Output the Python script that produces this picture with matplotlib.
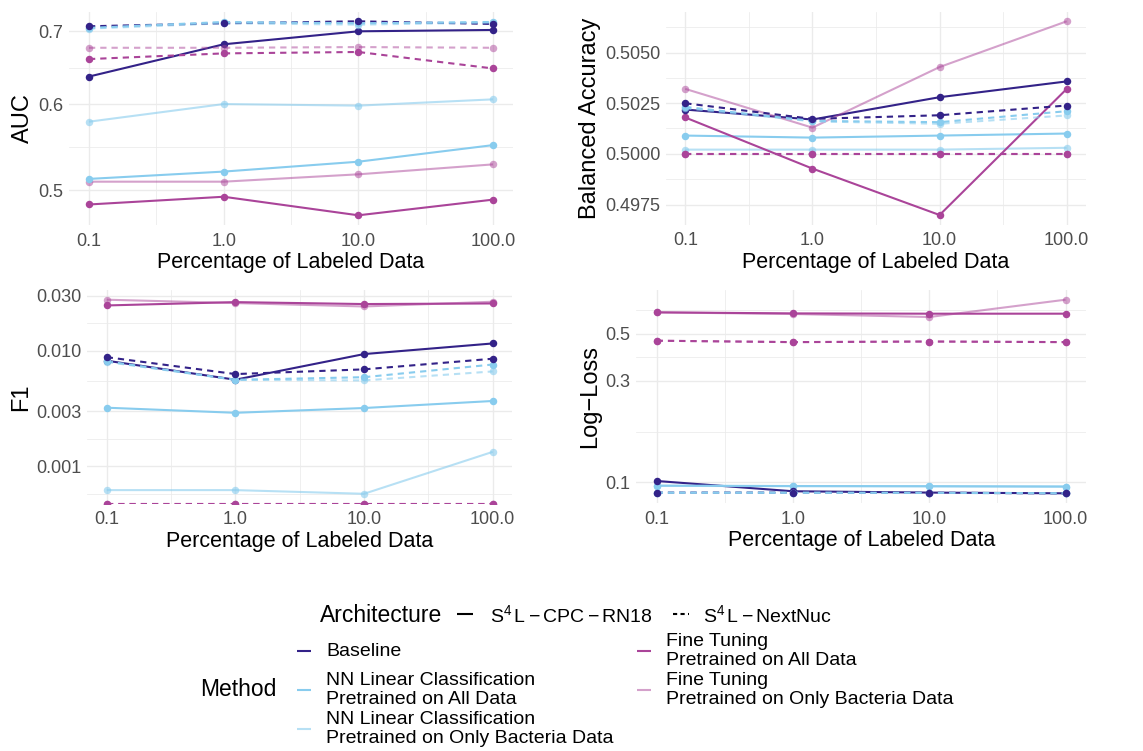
import numpy as np
import matplotlib
matplotlib.use("Agg")
import matplotlib.pyplot as plt

plt.rcParams['font.family'] = ['Liberation Sans', 'DejaVu Sans']
plt.rcParams['mathtext.fontset'] = 'custom'
plt.rcParams['mathtext.rm'] = 'Liberation Sans'
plt.rcParams['mathtext.it'] = 'Liberation Sans:italic'

# ---------------- data ----------------
pct = [0.1, 1.0, 10.0, 100.0]
pct_labels = ["0.1", "1.0", "10.0", "100.0"]

methods = ["Baseline",
           "NN Linear Classification\nPretrained on All Data",
           "NN Linear Classification\nPretrained on Only Bacteria Data",
           "Fine Tuning\nPretrained on All Data",
           "Fine Tuning\nPretrained on Only Bacteria Data"]
method_colors = ["#332288", "#88CCEE", "#88CCEE", "#AA4499", "#AA4499"]
method_alpha = [1.0, 1.0, 0.6, 1.0, 0.5]
architectures = [r"$\mathregular{S^4\/L-CPC-RN18}$", r"$\mathregular{S^4\/L-NextNuc}$"]

# AUC (rows follow `methods`)
auc_cpc = [[0.636, 0.681, 0.700, 0.702],
           [0.512, 0.520, 0.531, 0.550],
           [0.578, 0.600, 0.598, 0.606],
           [0.485, 0.493, 0.474, 0.490],
           [0.509, 0.509, 0.517, 0.528]]
auc_nextnuc = [[0.7075, 0.712, 0.715, 0.711],
               [0.705, 0.714, 0.712, 0.714],
               [0.704, 0.712, 0.710, 0.713],
               [0.660, 0.668, 0.670, 0.647],
               [0.676, 0.676, 0.677, 0.676]]

# Balanced accuracy
bacc_cpc = [[0.50218, 0.50169, 0.50279, 0.50357],
            [0.50090, 0.50080, 0.50090, 0.50100],
            [0.50021, 0.50021, 0.50021, 0.50030],
            [0.50179, 0.49928, 0.49701, 0.50320],
            [0.50320, 0.50129, 0.50428, 0.50655]]
bacc_nextnuc = [[0.50249, 0.50172, 0.50190, 0.50238],
                [0.50231, 0.50162, 0.50156, 0.50210],
                [0.50224, 0.50160, 0.50148, 0.50189],
                [0.50000, 0.50000, 0.50000, 0.50000],
                [0.50000, 0.50000, 0.50000, 0.50000]]

# F1
f1_cpc = [[0.0082, 0.00561, 0.00936, 0.01157],
          [0.00321, 0.00290, 0.00319, 0.00367],
          [0.00062, 0.00062, 0.000576, 0.00133],
          [0.0247, 0.0264, 0.0254, 0.0257],
          [0.0277, 0.0259, 0.0242, 0.0266]]
f1_nextnuc = [[0.0088, 0.00628, 0.0069, 0.00853],
              [0.0081, 0.0056, 0.0059, 0.0076],
              [0.0080, 0.0056, 0.00553, 0.00662],
              [0.0, 0.0, 0.0, 0.0],
              [0.0, 0.0, 0.0, 0.0]]

# Log-loss
logloss_cpc = [[0.1014, 0.0907, 0.0894, 0.0887],
               [0.0964, 0.0960, 0.0958, 0.0955],
               [0.0962, 0.0958, 0.0957, 0.0953],
               [0.631, 0.624, 0.622, 0.622],
               [0.631, 0.620, 0.600, 0.724]]
logloss_nextnuc = [[0.0894, 0.0894, 0.0892, 0.0887],
                   [0.0893, 0.0893, 0.0892, 0.0888],
                   [0.0892, 0.0892, 0.0891, 0.0887],
                   [0.464, 0.457, 0.460, 0.457],
                   [0.464, 0.457, 0.460, 0.457]]

auc_ticks = [0.5, 0.6, 0.7]
auc_ticklabels = ["0.5", "0.6", "0.7"]
bacc_ticks = [0.4975, 0.5, 0.5025, 0.505]
bacc_ticklabels = ["0.4975", "0.5000", "0.5025", "0.5050"]
f1_ticks = [0.001, 0.003, 0.01, 0.03]
f1_ticklabels = ["0.001", "0.003", "0.010", "0.030"]
logloss_ticks = [0.1, 0.3, 0.5]
logloss_ticklabels = ["0.1", "0.3", "0.5"]

# ---------------- layout ----------------
W, H = 1143, 751
fig = plt.figure(figsize=(W / 100, H / 100), dpi=100)

def add_ax(left, top, right, bottom):
    return fig.add_axes([left / W, 1 - bottom / H, (right - left) / W, (bottom - top) / H])

GRID = "#EBEBEB"
TICKC = "#4D4D4D"

def minor_between(majors):
    lb = np.log10(majors)
    ext = np.concatenate([[lb[0] - (lb[1] - lb[0])], lb, [lb[-1] + (lb[-1] - lb[-2])]])
    return 10 ** ((ext[:-1] + ext[1:]) / 2)

def panel(ax, solid, dashed, ylabel, yticks, yticklabels):
    ax.set_xscale('log')
    ax.set_yscale('log')
    allv = np.array(solid + dashed, dtype=float)
    pos = allv[allv > 0]
    lo, hi = np.log10(pos.min()), np.log10(pos.max())
    pad = 0.05 * (hi - lo)
    ylim = (10 ** (lo - pad), 10 ** (hi + pad))
    lx = np.log10(pct)
    xpad = 0.05 * (lx.max() - lx.min())
    xlim = (10 ** (lx.min() - xpad), 10 ** (lx.max() + xpad))
    n = len(methods)
    # line layer (legend order), then point layer (reverse order)
    for series, ls in ((solid, '-'), (dashed, '--')):
        for i in range(n):
            v = np.array(series[i], dtype=float)
            v = np.where(v > 0, v, ylim[0])  # -Inf drawn on panel edge
            kw = dict(color=method_colors[i], alpha=method_alpha[i], lw=1.5,
                      solid_capstyle='butt', zorder=2)
            if ls == '--':
                kw['dashes'] = (3.0, 2.4)
            ax.plot(pct, v, ls, **kw)
    for series in (solid, dashed):
        for i in range(n - 1, -1, -1):
            v = np.array(series[i], dtype=float)
            v = np.where(v > 0, v, ylim[0])
            ax.plot(pct, v, 'o', ms=5.4, color=method_colors[i], alpha=method_alpha[i],
                    mec='none', zorder=3)
    ax.set_xticks(pct)
    ax.set_xticklabels(pct_labels)
    ax.set_xticks([m for m in minor_between(pct) if xlim[0] < m < xlim[1]], minor=True)
    ax.set_yticks(yticks)
    ax.set_yticklabels(yticklabels)
    ax.set_yticks([m for m in minor_between(yticks) if ylim[0] < m < ylim[1]], minor=True)
    ax.yaxis.set_minor_formatter(matplotlib.ticker.NullFormatter())
    ax.xaxis.set_minor_formatter(matplotlib.ticker.NullFormatter())
    ax.set_xlim(*xlim)
    ax.set_ylim(*ylim)
    ax.grid(True, which='major', color=GRID, lw=1.0)
    ax.grid(True, which='minor', color=GRID, lw=0.55)
    ax.set_axisbelow(True)
    for s in ax.spines.values():
        s.set_visible(False)
    ax.tick_params(which='both', length=0, pad=5.5, labelsize=13, labelcolor=TICKC)
    ax.tick_params(axis='y', pad=4)
    ax.set_xlabel("Percentage of Labeled Data", fontsize=15.5, labelpad=2)
    ax.set_ylabel(ylabel, fontsize=17, labelpad=3)

ax1 = add_ax(68.8, 11.6, 513.2, 225)
panel(ax1, auc_cpc, auc_nextnuc, "AUC", auc_ticks, auc_ticklabels)
ax2 = add_ax(666.2, 11.6, 1085.8, 224.7)
panel(ax2, bacc_cpc, bacc_nextnuc, "Balanced Accuracy", bacc_ticks, bacc_ticklabels)
ax3 = add_ax(87.4, 290, 512, 503.5)
panel(ax3, f1_cpc, f1_nextnuc, "F1", f1_ticks, f1_ticklabels)
ax4 = add_ax(636.2, 290, 1086.1, 503)
panel(ax4, logloss_cpc, logloss_nextnuc, "Log\u2212Loss", logloss_ticks, logloss_ticklabels)

# ---------------- legends ----------------
lg = fig.add_axes([0, 0, 1, 1])
lg.set_xlim(0, W)
lg.set_ylim(H, 0)
lg.axis('off')

lg.text(320, 615, "Architecture", fontsize=16.5, va='center', ha='left')
lg.plot([457, 473], [614, 614], color='black', lw=1.5, solid_capstyle='butt')
lg.text(490, 615, architectures[0], fontsize=14, va='center', ha='left')
lg.plot([673, 689], [614, 614], color='black', lw=1.5, dashes=(2.0, 1.6))
lg.text(703, 615, architectures[1], fontsize=14, va='center', ha='left')

lg.text(200, 690, "Method", fontsize=16.5, va='center', ha='left')
key_pos = [(297, 651), (297, 690), (297, 729), (637, 651), (637, 690)]
for (kx, ky), col, a, lab in zip(key_pos, method_colors, method_alpha, methods):
    lg.plot([kx, kx + 14], [ky, ky], color=col, alpha=a, lw=1.5, solid_capstyle='butt')
    lg.text(kx + 29, ky, lab, fontsize=14, va='center', ha='left', linespacing=1.1)

fig.savefig("out.png", dpi=100)
